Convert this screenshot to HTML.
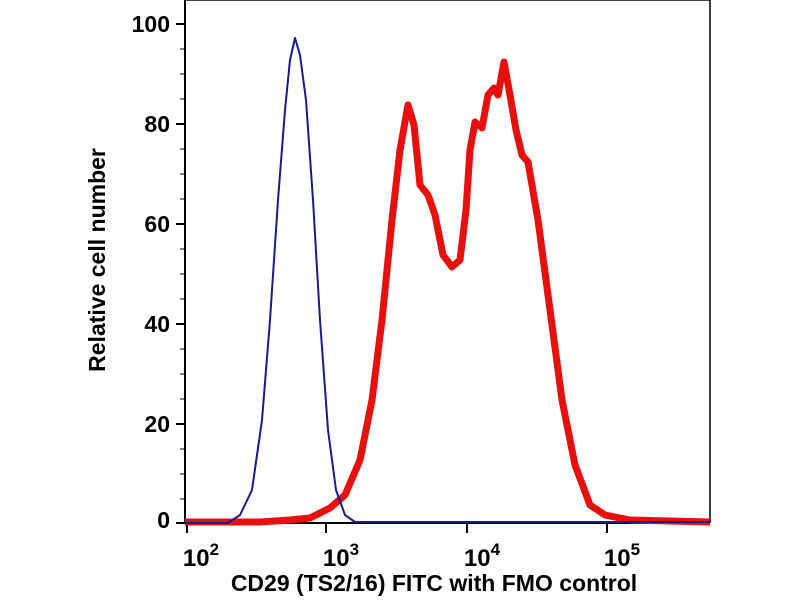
<!DOCTYPE html><html><head><style>body{margin:0;background:#fff}</style></head><body>
<svg width="800" height="600" xmlns="http://www.w3.org/2000/svg" font-family="Liberation Sans, sans-serif" font-weight="bold">
<rect width="800" height="600" fill="#fff"/>
<path d="M185,0 H710 V523" fill="none" stroke="#000" stroke-width="1.5"/>
<path d="M185,0 V523 H710" fill="none" stroke="#000" stroke-width="2"/>
<g stroke="#000" stroke-width="2">
<line x1="176" y1="24" x2="185" y2="24"/><line x1="176" y1="124" x2="185" y2="124"/><line x1="176" y1="224" x2="185" y2="224"/><line x1="176" y1="324" x2="185" y2="324"/><line x1="176" y1="424" x2="185" y2="424"/><line x1="176" y1="523" x2="185" y2="523"/>
</g>
<g stroke="#000" stroke-width="1">
<line x1="180" y1="49" x2="185" y2="49"/><line x1="180" y1="74" x2="185" y2="74"/><line x1="180" y1="99" x2="185" y2="99"/>
<line x1="180" y1="149" x2="185" y2="149"/><line x1="180" y1="174" x2="185" y2="174"/><line x1="180" y1="199" x2="185" y2="199"/>
<line x1="180" y1="249" x2="185" y2="249"/><line x1="180" y1="274" x2="185" y2="274"/><line x1="180" y1="299" x2="185" y2="299"/>
<line x1="180" y1="349" x2="185" y2="349"/><line x1="180" y1="374" x2="185" y2="374"/><line x1="180" y1="399" x2="185" y2="399"/>
<line x1="180" y1="449" x2="185" y2="449"/><line x1="180" y1="474" x2="185" y2="474"/><line x1="180" y1="499" x2="185" y2="499"/>
</g>
<g font-size="23" text-anchor="end">
<text x="170" y="32">100</text><text x="170" y="132">80</text><text x="170" y="232">60</text><text x="170" y="332">40</text><text x="170" y="432">20</text><text x="170" y="528">0</text>
</g>
<g stroke="#000" stroke-width="2">
<line x1="187" y1="523" x2="187" y2="533"/><line x1="326" y1="523" x2="326" y2="533"/><line x1="467" y1="523" x2="467" y2="533"/><line x1="607" y1="523" x2="607" y2="533"/>
</g>
<g stroke="#000" stroke-width="1" id="minor"></g>
<g font-size="24" text-anchor="middle">
<text x="201" y="566">10<tspan dy="-11" font-size="17">2</tspan></text>
<text x="341" y="566">10<tspan dy="-11" font-size="17">3</tspan></text>
<text x="482" y="566">10<tspan dy="-11" font-size="17">4</tspan></text>
<text x="622" y="566">10<tspan dy="-11" font-size="17">5</tspan></text>
</g>
<text x="434" y="591" font-size="23" text-anchor="middle">CD29 (TS2/16) FITC with FMO control</text>
<text transform="translate(105,260) rotate(-90)" font-size="23" text-anchor="middle">Relative cell number</text>
<polyline fill="none" stroke="#e8100c" stroke-width="7" stroke-linejoin="round" points="185,522 260,522 290,520 310,518 330,508 345,495 360,460 372,400 382,320 392,220 400,150 408,105 414,125 420,185 428,195 435,215 443,255 452,267 460,260 466,210 470,150 475,122 482,128 488,95 494,88 498,95 504,62 510,95 516,130 522,155 528,162 538,220 550,310 562,400 575,465 590,505 605,515 630,520 710,522"/>
<polyline fill="none" stroke="#1a1a8c" stroke-width="2" stroke-linejoin="round" points="185,523 228,523 240,515 252,490 262,420 270,320 278,200 285,110 290,60 295,38 300,55 306,100 313,200 320,320 328,430 336,490 345,515 355,522 710,522"/>
<script>
var g=document.getElementById('minor'),s='';
for(var d=1;d<=5;d++){for(var k=2;k<=9;k++){var x=187+(d-2+Math.log10(k))*140;if(x>186&&x<710)s+='<line x1="'+x+'" y1="523" x2="'+x+'" y2="529"/>';}}
g.innerHTML=s;
</script>
</svg></body></html>
